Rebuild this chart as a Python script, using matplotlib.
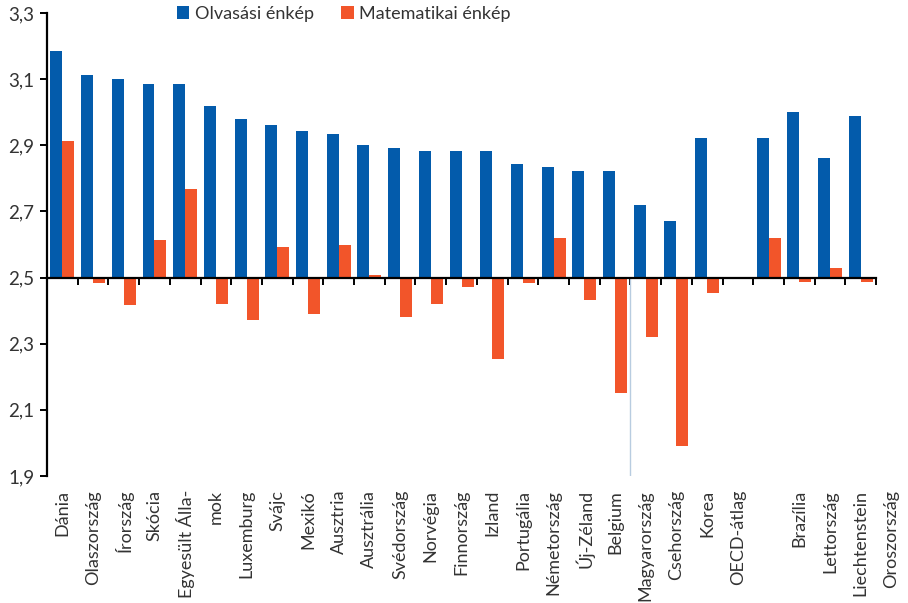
import numpy as np
import matplotlib.pyplot as plt
from matplotlib.ticker import FixedLocator, FuncFormatter
import matplotlib.transforms as mtransforms

# tick labels as printed (the original label row is offset by the split "Álla-/mok")
labels = ['Dánia', 'Olaszország', 'Írország', 'Skócia', 'Egyesült Álla-', 'mok',
          'Luxemburg', 'Svájc', 'Mexikó', 'Ausztria', 'Ausztrália', 'Svédország',
          'Norvégia', 'Finnország', 'Izland', 'Portugália', 'Németország',
          'Új-Zéland', 'Belgium', 'Magyarország', 'Csehország', 'Korea',
          'OECD-átlag', '', 'Brazília', 'Lettország', 'Liechtenstein', 'Oroszország']

# bar values per group (27 groups on the axis), None = no bar
reading = [3.186, 3.114, 3.102, 3.084, 3.084, 3.020, 2.981, 2.960, 2.944,
           2.935, 2.902, 2.893, 2.884, 2.884, 2.884, 2.842, 2.833, 2.821,
           2.821, 2.718, 2.672, 2.923, None, 2.923, 3.002, 2.863, 2.990]
maths = [2.914, 2.483, 2.418, 2.613, 2.769, 2.419, 2.371, 2.591, 2.389,
         2.600, 2.509, 2.380, 2.419, 2.471, 2.255, 2.483, 2.621, 2.431,
         2.150, 2.320, 1.990, 2.453, None, 2.621, 2.486, 2.530, 2.486]

base = 2.5
blue = '#035BAB'
orange = '#F2552A'
text_col = '#333333'
plt.rcParams['font.family'] = ['Lato', 'DejaVu Sans']

fig = plt.figure(figsize=(9.08, 6.03), dpi=100)
ax = fig.add_axes([0.0518, 0.2106, 0.9130, 0.7678])

n = len(reading)
x = np.arange(n)
w = 0.39
r = np.array([np.nan if v is None else v for v in reading])
m = np.array([np.nan if v is None else v for v in maths])
ax.bar(x - w / 2, r - base, w, bottom=base, color=blue, label='Olvasási énkép')
ax.bar(x + w / 2, m - base, w, bottom=base, color=orange, label='Matematikai énkép')

# stray light line in the original
ax.plot([18.5, 18.5], [1.9, base], color='#B8CCE0', lw=1)

ax.set_xlim(-0.5, n - 0.5)
ax.set_ylim(1.9, 3.3)

for s in ['top', 'right']:
    ax.spines[s].set_visible(False)
ax.spines['bottom'].set_position(('data', base))
ax.spines['bottom'].set_linewidth(1.6)
ax.spines['left'].set_linewidth(1.6)

ax.yaxis.set_major_locator(FixedLocator([1.9, 2.1, 2.3, 2.5, 2.7, 2.9, 3.1, 3.3]))
ax.yaxis.set_major_formatter(FuncFormatter(lambda v, p: f'{v:.1f}'.replace('.', ',')))
ax.tick_params(axis='y', length=5, width=1.4, labelsize=13.5, labelcolor=text_col, pad=4)

ax.set_xticks(np.arange(-0.5, n, 1.0))
ax.set_xticklabels([])
ax.tick_params(axis='x', direction='out', length=5, width=1.4)

trans = mtransforms.blended_transform_factory(ax.transData, ax.transAxes)
for i, lab in enumerate(labels):
    ax.text(i, -0.03, lab, rotation=90, ha='center', va='top', fontsize=13,
            color=text_col, transform=trans, clip_on=False)

leg = ax.legend(loc='upper left', bbox_to_anchor=(0.137, 1.05), ncol=2, frameon=False,
                fontsize=13, handlelength=0.7, handleheight=0.7, handletextpad=0.3,
                columnspacing=1.5)
for t in leg.get_texts():
    t.set_color(text_col)

fig.savefig('out.png', dpi=100)
